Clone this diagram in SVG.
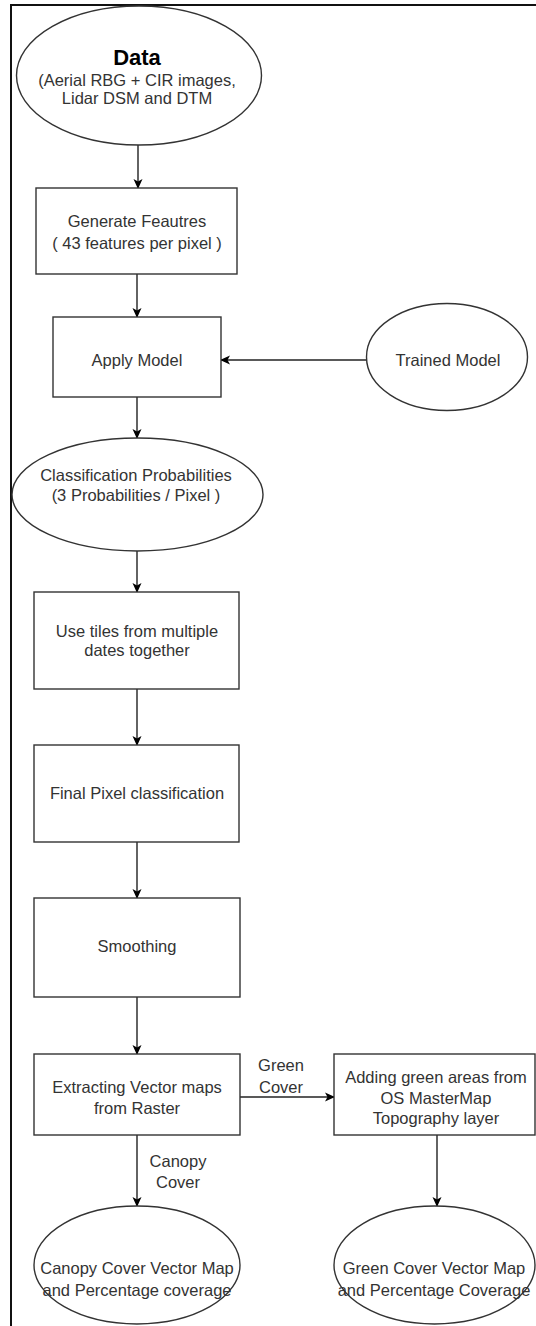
<svg xmlns="http://www.w3.org/2000/svg" width="536" height="1326" viewBox="0 0 536 1326">
<defs>
<marker id="ah" markerWidth="10" markerHeight="10" refX="9" refY="5" orient="auto" markerUnits="userSpaceOnUse">
<path d="M0,0.5 L10,5 L0,9.5 L2.5,5 Z" fill="#000"/>
</marker>
<style>
.shape{fill:#fff;stroke:#333;stroke-width:1.4}
.t{font-family:"Liberation Sans",Arial,sans-serif;font-size:16.5px;fill:#333;text-anchor:middle}
.b{font-weight:bold;font-size:22px;fill:#000}
.c{stroke:#222;stroke-width:1.4;fill:none;marker-end:url(#ah)}
</style>
</defs>
<rect width="536" height="1326" fill="#fff"/>
<rect x="11" y="5" width="600" height="1400" fill="none" stroke="#111" stroke-width="2"/>
<g id="connectors">
<line class="c" x1="138" y1="145" x2="138" y2="188"/>
<line class="c" x1="137" y1="274" x2="137" y2="317"/>
<line class="c" x1="366" y1="360" x2="221" y2="360"/>
<line class="c" x1="137" y1="397" x2="137" y2="438"/>
<line class="c" x1="137" y1="551" x2="137" y2="592"/>
<line class="c" x1="137" y1="689" x2="137" y2="745"/>
<line class="c" x1="137" y1="842" x2="137" y2="898"/>
<line class="c" x1="137" y1="997" x2="137" y2="1054"/>
<line class="c" x1="240" y1="1097" x2="334" y2="1097"/>
<line class="c" x1="137" y1="1135" x2="137" y2="1206"/>
<line class="c" x1="437" y1="1135" x2="437" y2="1206"/>
<text class="t" x="281" y="1071">Green</text>
<text class="t" x="281" y="1093">Cover</text>
<text class="t" x="178" y="1167">Canopy</text>
<text class="t" x="178" y="1188">Cover</text>
</g>
<g id="data">
<ellipse class="shape" cx="139" cy="75.5" rx="122.5" ry="69.5"/>
<text class="t b" x="137" y="65">Data</text>
<text class="t" x="137" y="86">(Aerial RBG + CIR images,</text>
<text class="t" x="137" y="104">Lidar DSM and DTM</text>
</g>
<g id="generate">
<rect class="shape" x="36" y="188" width="201" height="86"/>
<text class="t" x="137" y="227">Generate Feautres</text>
<text class="t" x="137" y="249">( 43 features per pixel )</text>
</g>
<g id="apply">
<rect class="shape" x="53" y="317" width="168" height="80"/>
<text class="t" x="137" y="366">Apply Model</text>
</g>
<g id="trained">
<ellipse class="shape" cx="447" cy="357" rx="80.5" ry="53.5"/>
<text class="t" x="448" y="366">Trained Model</text>
</g>
<g id="classprob">
<ellipse class="shape" cx="137.5" cy="494.5" rx="125.5" ry="56.5"/>
<text class="t" x="136" y="481">Classification Probabilities</text>
<text class="t" x="136" y="501">(3 Probabilities / Pixel )</text>
</g>
<g id="tiles">
<rect class="shape" x="34" y="592" width="205" height="97"/>
<text class="t" x="137" y="637">Use tiles from multiple</text>
<text class="t" x="137" y="656">dates together</text>
</g>
<g id="final">
<rect class="shape" x="34" y="745" width="205" height="97"/>
<text class="t" x="137" y="799">Final Pixel classification</text>
</g>
<g id="smoothing">
<rect class="shape" x="34" y="898" width="206" height="99"/>
<text class="t" x="137" y="952">Smoothing</text>
</g>
<g id="extract">
<rect class="shape" x="34" y="1054" width="206" height="81"/>
<text class="t" x="137" y="1093">Extracting Vector maps</text>
<text class="t" x="137" y="1114">from Raster</text>
</g>
<g id="adding">
<rect class="shape" x="334" y="1054" width="201" height="81"/>
<text class="t" x="436" y="1083">Adding green areas from</text>
<text class="t" x="436" y="1104">OS MasterMap</text>
<text class="t" x="436" y="1124">Topography layer</text>
</g>
<g id="canopy">
<ellipse class="shape" cx="137" cy="1265" rx="103" ry="59"/>
<text class="t" x="137" y="1274">Canopy Cover Vector Map</text>
<text class="t" x="137" y="1296">and Percentage coverage</text>
</g>
<g id="green">
<ellipse class="shape" cx="434.5" cy="1265" rx="100.5" ry="59"/>
<text class="t" x="434" y="1274">Green Cover Vector Map</text>
<text class="t" x="434" y="1296">and Percentage Coverage</text>
</g>
</svg>
